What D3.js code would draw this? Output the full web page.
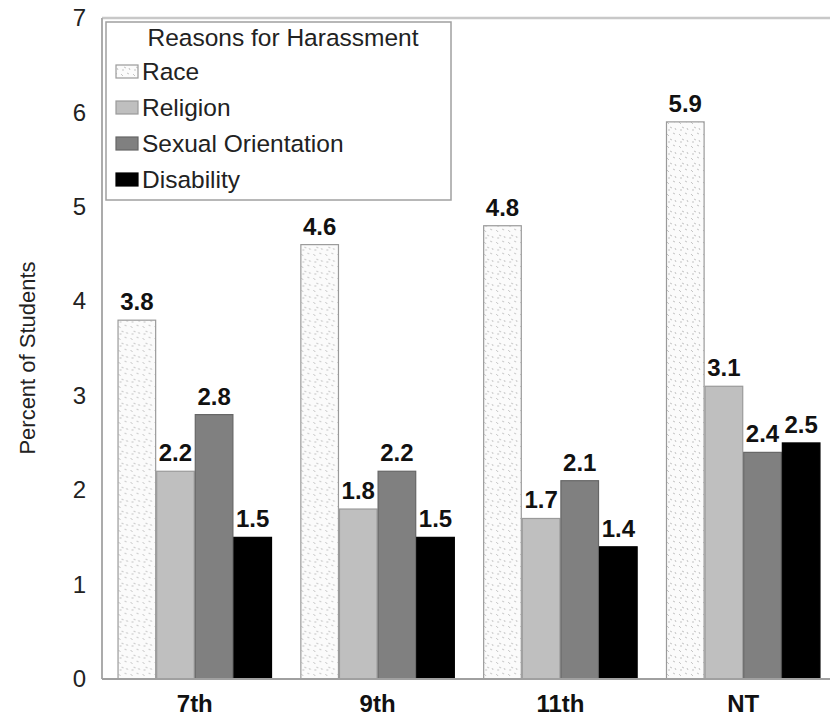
<!DOCTYPE html>
<html>
<head>
<meta charset="utf-8">
<script src="https://cdn.jsdelivr.net/npm/d3@7"></script>
<style>
  html, body { margin: 0; padding: 0; background: #fff; }
  svg { display: block; font-family: "Liberation Sans", Arial, sans-serif; }
</style>
</head>
<body>
<svg id="chart" width="830" height="717"></svg>
<script>
const categories = ["7th", "9th", "11th", "NT"];
const seriesNames = ["Race", "Religion", "Sexual Orientation", "Disability"];
const race = [3.8, 4.6, 4.8, 5.9];
const religion = [2.2, 1.8, 1.7, 3.1];
const sexualOrientation = [2.8, 2.2, 2.1, 2.4];
const disability = [1.5, 1.5, 1.4, 2.5];
const yTicks = [0, 1, 2, 3, 4, 5, 6, 7];
const legendTitle = "Reasons for Harassment";
const yTitle = "Percent of Students";

(function () {
const seriesValues = [race, religion, sexualOrientation, disability];
const fills = ["url(#racePattern)", "#bfbfbf", "#808080", "#000000"];
const strokes = ["#9a9a9a", "#9a9a9a", "#666666", "#000000"];

const svg = d3.select("#chart");
const pLeft = 102, pRight = 836, pTop = 18, pBottom = 679;

// pattern for race bars
const defs = svg.append("defs");
const pat = defs.append("pattern")
  .attr("id", "racePattern").attr("patternUnits", "userSpaceOnUse")
  .attr("width", 12).attr("height", 12);
pat.append("rect").attr("width", 12).attr("height", 12).attr("fill", "#fbfbfb");
pat.append("path").attr("d", "M1,2 l2,2 M7,1 l2,1 M4,7 l2,1 M9,8 l1,2 M2,10 l2,0")
  .attr("stroke", "#c4c4c4").attr("stroke-width", 1).attr("fill", "none");

const y = d3.scaleLinear().domain([0, 7]).range([pBottom, pTop]);
const x0 = d3.scaleBand().domain(categories).range([pLeft, pRight])
  .paddingInner(0.155).paddingOuter(0.085);
const x1 = d3.scaleBand().domain(seriesNames).range([0, x0.bandwidth()]);

// top line
svg.append("line").attr("x1", pLeft).attr("x2", 830).attr("y1", pTop).attr("y2", pTop)
  .attr("stroke", "#c8c8c8").attr("stroke-width", 2.5);

const yAxis = d3.axisLeft(y).tickValues(yTicks).tickSize(0).tickPadding(16).tickFormat(d3.format("d"));
const gy = svg.append("g").attr("transform", `translate(${pLeft},0)`).call(yAxis);
gy.select(".domain").remove();
gy.selectAll("text").attr("font-size", 24).attr("fill", "#222")
  .attr("font-family", "Liberation Sans, Arial, sans-serif");

svg.append("line").attr("x1", pLeft).attr("x2", pLeft).attr("y1", pTop).attr("y2", pBottom)
  .attr("stroke", "#ababab").attr("stroke-width", 2);

// bars
const groups = svg.append("g").selectAll("g").data(categories).join("g")
  .attr("transform", d => `translate(${x0(d)},0)`);

groups.each(function (cat, ci) {
  const g = d3.select(this);
  seriesNames.forEach((s, si) => {
    const v = seriesValues[si][ci];
    g.append("rect")
      .attr("x", x1(s) + 0.5)
      .attr("y", y(v))
      .attr("width", x1.bandwidth() - 1)
      .attr("height", y(0) - y(v))
      .attr("fill", fills[si])
      .attr("stroke", strokes[si])
      .attr("stroke-width", 1.2);
    g.append("text")
      .attr("x", x1(s) + x1.bandwidth() / 2)
      .attr("y", y(v) - 10)
      .attr("text-anchor", "middle")
      .attr("font-size", 24).attr("font-weight", "bold").attr("fill", "#111")
      .text(v.toFixed(1));
  });
});

svg.append("line").attr("x1", pLeft).attr("x2", 830).attr("y1", pBottom).attr("y2", pBottom)
  .attr("stroke", "#a0a0a0").attr("stroke-width", 2);

// x axis labels
const xAxis = d3.axisBottom(x0).tickSize(0).tickPadding(0);
const gx = svg.append("g").attr("transform", `translate(0,${pBottom})`).call(xAxis);
gx.select(".domain").remove();
gx.selectAll("text").attr("font-size", 24).attr("font-weight", "bold").attr("fill", "#111")
  .attr("font-family", "Liberation Sans, Arial, sans-serif")
  .attr("dy", null).attr("y", 33);

// y title
svg.append("text")
  .attr("transform", "translate(35,358) rotate(-90)")
  .attr("text-anchor", "middle")
  .attr("font-size", 22).attr("fill", "#222")
  .text(yTitle);

// legend
const lg = svg.append("g");
lg.append("rect").attr("x", 106).attr("y", 22).attr("width", 345).attr("height", 178)
  .attr("fill", "#fff").attr("stroke", "#a0a0a0").attr("stroke-width", 1.5);
lg.append("text").attr("x", 283).attr("y", 46).attr("text-anchor", "middle")
  .attr("font-size", 24.5).attr("fill", "#222").text(legendTitle);
seriesNames.forEach((s, i) => {
  const yy = 80 + i * 36;
  lg.append("rect").attr("x", 116).attr("y", yy - 15).attr("width", 22).attr("height", 13)
    .attr("fill", fills[i]).attr("stroke", strokes[i]).attr("stroke-width", 1.2);
  lg.append("text").attr("x", 142).attr("y", yy).attr("font-size", 24.5).attr("fill", "#222").text(s);
});
})();
</script>
</body>
</html>
